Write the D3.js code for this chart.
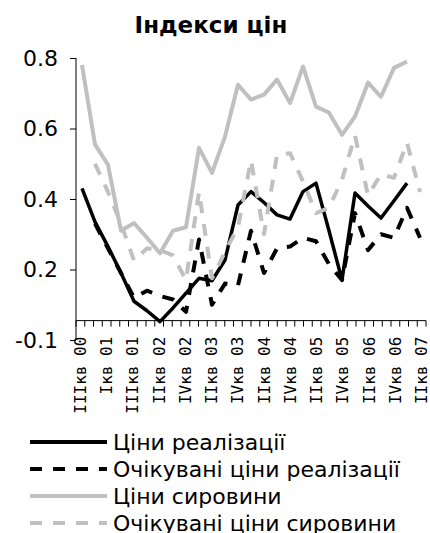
<!DOCTYPE html>
<html>
<head>
<meta charset="utf-8">
<script src="https://cdn.jsdelivr.net/npm/d3@7"></script>
<style>
  body { margin: 0; background: #fff; }
  svg { display: block; }
</style>
</head>
<body>
<svg id="chart"></svg>
<script>
const width = 430;
const height = 533;

// дані
const quarters = ["IIIкв 00","IVкв 00","Iкв 01","IIкв 01","IIIкв 01","IVкв 01","Iкв 02","IIкв 02","IIIкв 02","IVкв 02",
  "Iкв 03","IIкв 03","IIIкв 03","IVкв 03","Iкв 04","IIкв 04","IIIкв 04","IVкв 04","Iкв 05","IIкв 05",
  "IIIкв 05","IVкв 05","Iкв 06","IIкв 06","IIIкв 06","IVкв 06","Iкв 07"];
const sales = [0.43,0.335,0.265,0.19,0.11,0.083,0.052,0.091,0.133,0.175,0.168,0.227,0.383,0.421,0.39,0.355,0.343,0.421,0.445,0.31,0.17,0.417,0.38,0.346,0.395,0.445,null];
const salesExp = [null,0.33,0.26,0.19,0.12,0.14,0.125,0.115,0.08,0.285,0.10,0.16,0.155,0.31,0.19,0.26,0.265,0.29,0.28,0.215,0.17,0.36,0.255,0.30,0.29,0.375,0.29];
const raw = [0.78,0.555,0.497,0.31,0.332,0.29,0.246,0.31,0.32,0.545,0.474,0.577,0.724,0.682,0.696,0.739,0.672,0.776,0.662,0.645,0.582,0.634,0.73,0.69,0.772,0.79,null];
const rawExp = [null,0.50,0.42,0.33,0.225,0.26,0.255,0.24,0.17,0.42,0.175,0.25,0.32,0.51,0.30,0.525,0.53,0.45,0.36,0.375,0.455,0.58,0.41,0.47,0.46,0.56,0.42];

const seriesNames = ["Ціни реалізації","Очікувані ціни реалізації","Ціни сировини","Очікувані ціни сировини"];
const xTickLabels = ["IIIкв 00","Iкв 01","IIIкв 01","IIкв 02","IVкв 02","IIкв 03","IVкв 03","IIкв 04","IVкв 04","IIкв 05","IVкв 05","IIкв 06","IVкв 06","IIкв 07"];
const yTickValues = [0, 0.2, 0.4, 0.6, 0.8];
const yTickLabels = ["-0.1","0.2","0.4","0.6","0.8"];

const series = [
  { name: seriesNames[0], values: sales, color: "#000", dash: null, w: 3.5 },
  { name: seriesNames[1], values: salesExp, color: "#000", dash: "12,11", w: 4 },
  { name: seriesNames[2], values: raw, color: "#c0c0c0", dash: null, w: 4 },
  { name: seriesNames[3], values: rawExp, color: "#c0c0c0", dash: "12,11", w: 4 }
];

const svg = d3.select("#chart").attr("width", width).attr("height", height);

const plotLeft = 76, plotRight = 426, plotTop = 58, plotBottom = 340;
const nCats = 40;      // поділки категорійної осі
const crossAt = 0.055; // горизонтальна вісь перетинає тут

const y = d3.scaleLinear().domain([0, 0.8]).range([plotBottom, plotTop]);
const xCat = d3.scaleBand().domain(d3.range(nCats)).range([plotLeft, plotRight]);
const x = d3.scalePoint().domain(quarters).range([82, 420]);

// заголовок
svg.append("text")
  .attr("x", 211).attr("y", 33)
  .attr("text-anchor", "middle")
  .attr("font-family", "DejaVu Sans")
  .attr("font-weight", "bold")
  .attr("font-size", 23)
  .text("Індекси цін");

// вісь Y
const yAxis = svg.append("g")
  .attr("transform", `translate(${plotLeft},0)`)
  .call(d3.axisLeft(y).tickValues(yTickValues).tickSize(6).tickPadding(12)
    .tickFormat((d, i) => yTickLabels[i]));
yAxis.selectAll("path, line").attr("stroke", "#000");
yAxis.select(".domain").attr("d", `M0,${plotTop}V${plotBottom}`);
yAxis.selectAll("text").attr("font-family", "DejaVu Sans").attr("font-size", 22).attr("fill", "#000");

// вісь X
const xAxisY = y(crossAt);
const xg = svg.append("g").attr("transform", `translate(0,${xAxisY})`);
xg.append("line").attr("x1", plotLeft).attr("x2", plotRight).attr("stroke", "#000");
xg.selectAll(".tk")
  .data(d3.range(nCats + 1)).join("line")
  .attr("class", "tk")
  .attr("x1", d => plotLeft + d * xCat.step()).attr("x2", d => plotLeft + d * xCat.step())
  .attr("y1", 0).attr("y2", 6)
  .attr("stroke", "#000");
xg.selectAll(".lbl")
  .data(xTickLabels).join("text")
  .attr("class", "lbl")
  .attr("transform", (d, i) => `translate(${xCat(i * 3) + xCat.bandwidth() / 2},16) rotate(-90)`)
  .attr("text-anchor", "end")
  .attr("dy", "0.35em")
  .attr("font-family", "DejaVu Sans Mono")
  .attr("font-size", 16)
  .text(d => d);

// лінії
const line = d3.line()
  .defined(d => d.v != null)
  .x(d => x(d.q))
  .y(d => y(d.v));

series.forEach(s => {
  const pts = quarters.map((q, i) => ({ q, v: s.values[i] }));
  svg.append("path")
    .datum(pts)
    .attr("d", line)
    .attr("fill", "none")
    .attr("stroke", s.color)
    .attr("stroke-width", s.w)
    .attr("stroke-dasharray", s.dash)
    .attr("stroke-linejoin", "round");
});

// легенда
const legend = svg.append("g");
series.forEach((s, i) => {
  const ly = 442 + i * 27;
  legend.append("line")
    .attr("x1", 30).attr("x2", 107).attr("y1", ly).attr("y2", ly)
    .attr("stroke", s.color).attr("stroke-width", 4)
    .attr("stroke-dasharray", s.dash);
  legend.append("text")
    .attr("x", 113).attr("y", ly)
    .attr("dy", "0.35em")
    .attr("font-family", "DejaVu Sans")
    .attr("font-size", 22)
    .text(s.name);
});
</script>
</body>
</html>
